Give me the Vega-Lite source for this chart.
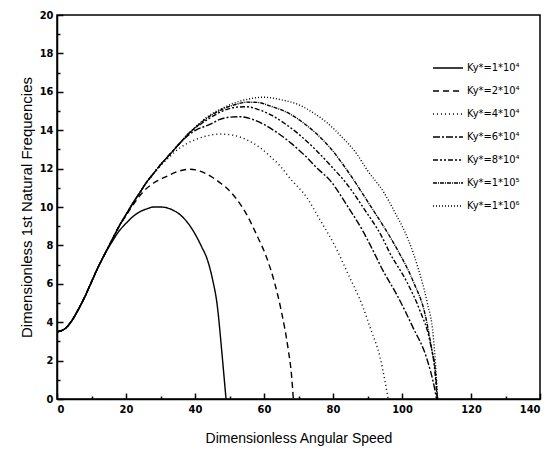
{
  "$schema": "https://vega.github.io/schema/vega-lite/v6.json",
  "autosize": "none",
  "width": 483,
  "height": 384,
  "padding": {"left": 57, "top": 15, "right": 9, "bottom": 60},
  "background": "white",
  "config": {
    "view": {"stroke": "black", "strokeWidth": 1.5},
    "font": "Liberation Sans",
    "axis": {"zindex": 1}
  },
  "data": {"values": [
    {"k":"a","x":0,"y":3.5},{"k":"a","x":2,"y":3.62},{"k":"a","x":4,"y":4.0},{"k":"a","x":6,"y":4.6},{"k":"a","x":8,"y":5.3},{"k":"a","x":10,"y":6.1},{"k":"a","x":12,"y":6.9},{"k":"a","x":14,"y":7.6},{"k":"a","x":16,"y":8.2},{"k":"a","x":18,"y":8.75},{"k":"a","x":20,"y":9.15},{"k":"a","x":22,"y":9.5},{"k":"a","x":24,"y":9.75},{"k":"a","x":26,"y":9.9},{"k":"a","x":28,"y":10.0},{"k":"a","x":30,"y":10.0},{"k":"a","x":32,"y":9.95},{"k":"a","x":34,"y":9.8},{"k":"a","x":36,"y":9.55},{"k":"a","x":38,"y":9.15},{"k":"a","x":40,"y":8.6},{"k":"a","x":42,"y":7.9},{"k":"a","x":43.4,"y":7.35},{"k":"a","x":45,"y":6.3},{"k":"a","x":46.5,"y":4.8},{"k":"a","x":47.7,"y":2.6},{"k":"a","x":48.5,"y":1.0},{"k":"a","x":49,"y":0},
    {"k":"b","x":0,"y":3.5},{"k":"b","x":2,"y":3.62},{"k":"b","x":4,"y":4.0},{"k":"b","x":6,"y":4.6},{"k":"b","x":8,"y":5.3},{"k":"b","x":10,"y":6.1},{"k":"b","x":12,"y":6.9},{"k":"b","x":14,"y":7.6},{"k":"b","x":16,"y":8.3},{"k":"b","x":18,"y":9.0},{"k":"b","x":20,"y":9.55},{"k":"b","x":22,"y":10.1},{"k":"b","x":25,"y":10.8},{"k":"b","x":28,"y":11.25},{"k":"b","x":31.3,"y":11.55},{"k":"b","x":35,"y":11.85},{"k":"b","x":38.6,"y":11.97},{"k":"b","x":42.4,"y":11.8},{"k":"b","x":45,"y":11.55},{"k":"b","x":47.2,"y":11.27},{"k":"b","x":50,"y":10.85},{"k":"b","x":52.1,"y":10.4},{"k":"b","x":55,"y":9.6},{"k":"b","x":58,"y":8.5},{"k":"b","x":60.8,"y":7.35},{"k":"b","x":63,"y":6.1},{"k":"b","x":65,"y":4.6},{"k":"b","x":67,"y":2.6},{"k":"b","x":68,"y":1.2},{"k":"b","x":68.5,"y":0},
    {"k":"c","x":0,"y":3.5},{"k":"c","x":2,"y":3.62},{"k":"c","x":4,"y":4.0},{"k":"c","x":6,"y":4.6},{"k":"c","x":8,"y":5.3},{"k":"c","x":10,"y":6.1},{"k":"c","x":12,"y":6.9},{"k":"c","x":14,"y":7.6},{"k":"c","x":16,"y":8.3},{"k":"c","x":18,"y":9.0},{"k":"c","x":20,"y":9.6},{"k":"c","x":22,"y":10.2},{"k":"c","x":24,"y":10.75},{"k":"c","x":26,"y":11.3},{"k":"c","x":28,"y":11.75},{"k":"c","x":30,"y":12.15},{"k":"c","x":32,"y":12.5},{"k":"c","x":34,"y":12.85},{"k":"c","x":37.6,"y":13.3},{"k":"c","x":40,"y":13.5},{"k":"c","x":43.4,"y":13.7},{"k":"c","x":47.2,"y":13.8},{"k":"c","x":52,"y":13.7},{"k":"c","x":55,"y":13.5},{"k":"c","x":58.8,"y":13.1},{"k":"c","x":62,"y":12.6},{"k":"c","x":64.6,"y":12.15},{"k":"c","x":67.5,"y":11.5},{"k":"c","x":72.4,"y":10.5},{"k":"c","x":76,"y":9.4},{"k":"c","x":80.6,"y":7.96},{"k":"c","x":84,"y":6.65},{"k":"c","x":88.8,"y":4.73},{"k":"c","x":91,"y":3.6},{"k":"c","x":93.6,"y":2.2},{"k":"c","x":95.1,"y":0.9},{"k":"c","x":96,"y":0},
    {"k":"d","x":0,"y":3.5},{"k":"d","x":2,"y":3.62},{"k":"d","x":4,"y":4.0},{"k":"d","x":6,"y":4.6},{"k":"d","x":8,"y":5.3},{"k":"d","x":10,"y":6.1},{"k":"d","x":12,"y":6.9},{"k":"d","x":14,"y":7.6},{"k":"d","x":16,"y":8.3},{"k":"d","x":18,"y":9.0},{"k":"d","x":20,"y":9.6},{"k":"d","x":22,"y":10.2},{"k":"d","x":24,"y":10.75},{"k":"d","x":26,"y":11.3},{"k":"d","x":28,"y":11.75},{"k":"d","x":30,"y":12.2},{"k":"d","x":32,"y":12.6},{"k":"d","x":34,"y":13.0},{"k":"d","x":36,"y":13.4},{"k":"d","x":38,"y":13.72},{"k":"d","x":40,"y":13.98},{"k":"d","x":44.3,"y":14.3},{"k":"d","x":47,"y":14.55},{"k":"d","x":50.1,"y":14.68},{"k":"d","x":53,"y":14.7},{"k":"d","x":56,"y":14.6},{"k":"d","x":60,"y":14.3},{"k":"d","x":64,"y":13.85},{"k":"d","x":68,"y":13.3},{"k":"d","x":72,"y":12.65},{"k":"d","x":75.5,"y":12.0},{"k":"d","x":79.1,"y":11.4},{"k":"d","x":84,"y":10.1},{"k":"d","x":88.8,"y":8.7},{"k":"d","x":90.7,"y":8.05},{"k":"d","x":94.6,"y":6.65},{"k":"d","x":98.5,"y":5.43},{"k":"d","x":103.3,"y":3.68},{"k":"d","x":107.2,"y":2.1},{"k":"d","x":109.6,"y":0.4},{"k":"d","x":110,"y":0},
    {"k":"e","x":0,"y":3.5},{"k":"e","x":2,"y":3.62},{"k":"e","x":4,"y":4.0},{"k":"e","x":6,"y":4.6},{"k":"e","x":8,"y":5.3},{"k":"e","x":10,"y":6.1},{"k":"e","x":12,"y":6.9},{"k":"e","x":14,"y":7.6},{"k":"e","x":16,"y":8.3},{"k":"e","x":18,"y":9.0},{"k":"e","x":20,"y":9.6},{"k":"e","x":22,"y":10.2},{"k":"e","x":24,"y":10.75},{"k":"e","x":26,"y":11.3},{"k":"e","x":28,"y":11.75},{"k":"e","x":30,"y":12.2},{"k":"e","x":32,"y":12.6},{"k":"e","x":34,"y":13.0},{"k":"e","x":36,"y":13.4},{"k":"e","x":38,"y":13.8},{"k":"e","x":40,"y":14.1},{"k":"e","x":44,"y":14.6},{"k":"e","x":48,"y":15.0},{"k":"e","x":52,"y":15.2},{"k":"e","x":55,"y":15.22},{"k":"e","x":58,"y":15.1},{"k":"e","x":62,"y":14.8},{"k":"e","x":66,"y":14.35},{"k":"e","x":70,"y":13.8},{"k":"e","x":74.3,"y":13.1},{"k":"e","x":79.1,"y":12.2},{"k":"e","x":84,"y":11.2},{"k":"e","x":88.8,"y":9.96},{"k":"e","x":94.6,"y":8.3},{"k":"e","x":96.2,"y":7.7},{"k":"e","x":101.4,"y":6.1},{"k":"e","x":105.2,"y":4.6},{"k":"e","x":108.1,"y":3.0},{"k":"e","x":109.5,"y":1.5},{"k":"e","x":110.2,"y":0},
    {"k":"f","x":0,"y":3.5},{"k":"f","x":2,"y":3.62},{"k":"f","x":4,"y":4.0},{"k":"f","x":6,"y":4.6},{"k":"f","x":8,"y":5.3},{"k":"f","x":10,"y":6.1},{"k":"f","x":12,"y":6.9},{"k":"f","x":14,"y":7.6},{"k":"f","x":16,"y":8.3},{"k":"f","x":18,"y":9.0},{"k":"f","x":20,"y":9.6},{"k":"f","x":22,"y":10.2},{"k":"f","x":24,"y":10.75},{"k":"f","x":26,"y":11.3},{"k":"f","x":28,"y":11.75},{"k":"f","x":30,"y":12.2},{"k":"f","x":32,"y":12.6},{"k":"f","x":34,"y":13.0},{"k":"f","x":36,"y":13.4},{"k":"f","x":38,"y":13.8},{"k":"f","x":40,"y":14.12},{"k":"f","x":44,"y":14.7},{"k":"f","x":48,"y":15.1},{"k":"f","x":52,"y":15.35},{"k":"f","x":55,"y":15.46},{"k":"f","x":58,"y":15.45},{"k":"f","x":62,"y":15.25},{"k":"f","x":67.5,"y":14.85},{"k":"f","x":72,"y":14.3},{"k":"f","x":75,"y":13.85},{"k":"f","x":79.1,"y":13.1},{"k":"f","x":84.9,"y":11.7},{"k":"f","x":90.7,"y":10.1},{"k":"f","x":97,"y":8.3},{"k":"f","x":98.9,"y":7.7},{"k":"f","x":103.3,"y":6.1},{"k":"f","x":106.7,"y":4.4},{"k":"f","x":108.6,"y":2.6},{"k":"f","x":109.8,"y":1.2},{"k":"f","x":110.2,"y":0},
    {"k":"g","x":0,"y":3.5},{"k":"g","x":2,"y":3.62},{"k":"g","x":4,"y":4.0},{"k":"g","x":6,"y":4.6},{"k":"g","x":8,"y":5.3},{"k":"g","x":10,"y":6.1},{"k":"g","x":12,"y":6.9},{"k":"g","x":14,"y":7.6},{"k":"g","x":16,"y":8.3},{"k":"g","x":18,"y":9.0},{"k":"g","x":20,"y":9.6},{"k":"g","x":22,"y":10.2},{"k":"g","x":24,"y":10.75},{"k":"g","x":26,"y":11.3},{"k":"g","x":28,"y":11.75},{"k":"g","x":30,"y":12.2},{"k":"g","x":32,"y":12.6},{"k":"g","x":34,"y":13.0},{"k":"g","x":36,"y":13.4},{"k":"g","x":38,"y":13.8},{"k":"g","x":40,"y":14.15},{"k":"g","x":44,"y":14.75},{"k":"g","x":48,"y":15.15},{"k":"g","x":51.1,"y":15.4},{"k":"g","x":55,"y":15.6},{"k":"g","x":59.8,"y":15.72},{"k":"g","x":64.6,"y":15.6},{"k":"g","x":70.4,"y":15.3},{"k":"g","x":74.3,"y":14.9},{"k":"g","x":78.2,"y":14.4},{"k":"g","x":82,"y":13.75},{"k":"g","x":86.9,"y":12.76},{"k":"g","x":90,"y":11.9},{"k":"g","x":94.6,"y":10.8},{"k":"g","x":98,"y":9.7},{"k":"g","x":101.8,"y":8.3},{"k":"g","x":104.7,"y":6.8},{"k":"g","x":107.2,"y":5.1},{"k":"g","x":109.1,"y":3.2},{"k":"g","x":110,"y":1.0},{"k":"g","x":110.3,"y":0}
  ]},
  "resolve": {"axis": {"x": "independent", "y": "independent"}},
  "layer": [
    {
      "mark": {"type": "line", "color": "black", "strokeWidth": 1.4, "interpolate": "monotone", "clip": true},
      "encoding": {
        "x": {
          "field": "x", "type": "quantitative",
          "scale": {"domain": [0, 140], "nice": false, "zero": false},
          "axis": {
            "orient": "bottom", "zindex": 1,
            "title": "Dimensionless Angular Speed",
            "titleFont": "Liberation Sans", "titleFontSize": 14, "titleFontWeight": "normal", "titleColor": "black", "titlePadding": 17,
            "values": [0,20,40,60,80,100,120,140],
            "labelFont": "DejaVu Sans Condensed", "labelFontSize": 11, "labelFontWeight": "bold", "labelColor": "black", "labelPadding": 10,
            "domainColor": "black", "domainWidth": 1.5,
            "ticks": true, "tickColor": "black", "tickWidth": 1.5, "tickSize": -6, "tickOpacity": 1,
            "grid": false
          }
        },
        "y": {
          "field": "y", "type": "quantitative",
          "scale": {"domain": [0, 20], "nice": false, "zero": false},
          "axis": {
            "orient": "left", "zindex": 1,
            "title": "Dimensionless 1st Natural Frequencies",
            "titleFont": "Liberation Sans", "titleFontSize": 15, "titleFontWeight": "normal", "titleColor": "black", "titlePadding": 5,
            "values": [0,2,4,6,8,10,12,14,16,18,20],
            "labelFont": "DejaVu Sans Condensed", "labelFontSize": 11, "labelFontWeight": "bold", "labelColor": "black", "labelPadding": 10,
            "domainColor": "black", "domainWidth": 1.5,
            "ticks": true, "tickColor": "black", "tickWidth": 1.5, "tickSize": -6, "tickOpacity": 1,
            "grid": false
          }
        },
        "strokeDash": {
          "field": "k", "type": "nominal",
          "scale": {
            "domain": ["a","b","c","d","e","f","g"],
            "range": [[1,0],[6,4],[1,3],[7,2,2,2],[5,2,2,2,2,2],[4,1,1,1],[1,2]]
          },
          "legend": {
            "title": null,
            "orient": "none",
            "legendX": 395,
            "legendY": 47,
            "padding": 0,
            "symbolType": "M-5,0H1",
            "symbolSize": 100,
            "symbolStrokeColor": "black",
            "symbolStrokeWidth": 1.4,
            "rowPadding": 12,
            "labelOffset": 3,
            "labelFont": "DejaVu Sans Condensed",
            "labelFontSize": 11,
            "labelColor": "black",
            "labelExpr": "{'a':'Ky*=1*10⁴','b':'Ky*=2*10⁴','c':'Ky*=4*10⁴','d':'Ky*=6*10⁴','e':'Ky*=8*10⁴','f':'Ky*=1*10⁵','g':'Ky*=1*10⁶'}[datum.value]"
          }
        }
      }
    },
    {
      "mark": {"type": "point", "opacity": 0, "size": 1},
      "encoding": {
        "x": {
          "field": "x", "type": "quantitative",
          "axis": {
            "orient": "bottom", "zindex": 1, "title": null, "labels": false, "domain": false,
            "values": [10,30,50,70,90,110,130],
            "ticks": true, "tickColor": "black", "tickWidth": 1.5, "tickSize": -3, "tickOpacity": 1, "grid": false
          }
        },
        "y": {
          "field": "y", "type": "quantitative",
          "axis": {
            "orient": "left", "zindex": 1, "title": null, "labels": false, "domain": false,
            "values": [1,3,5,7,9,11,13,15,17,19],
            "ticks": true, "tickColor": "black", "tickWidth": 1.5, "tickSize": -3, "tickOpacity": 1, "grid": false
          }
        }
      }
    }
  ]
}
